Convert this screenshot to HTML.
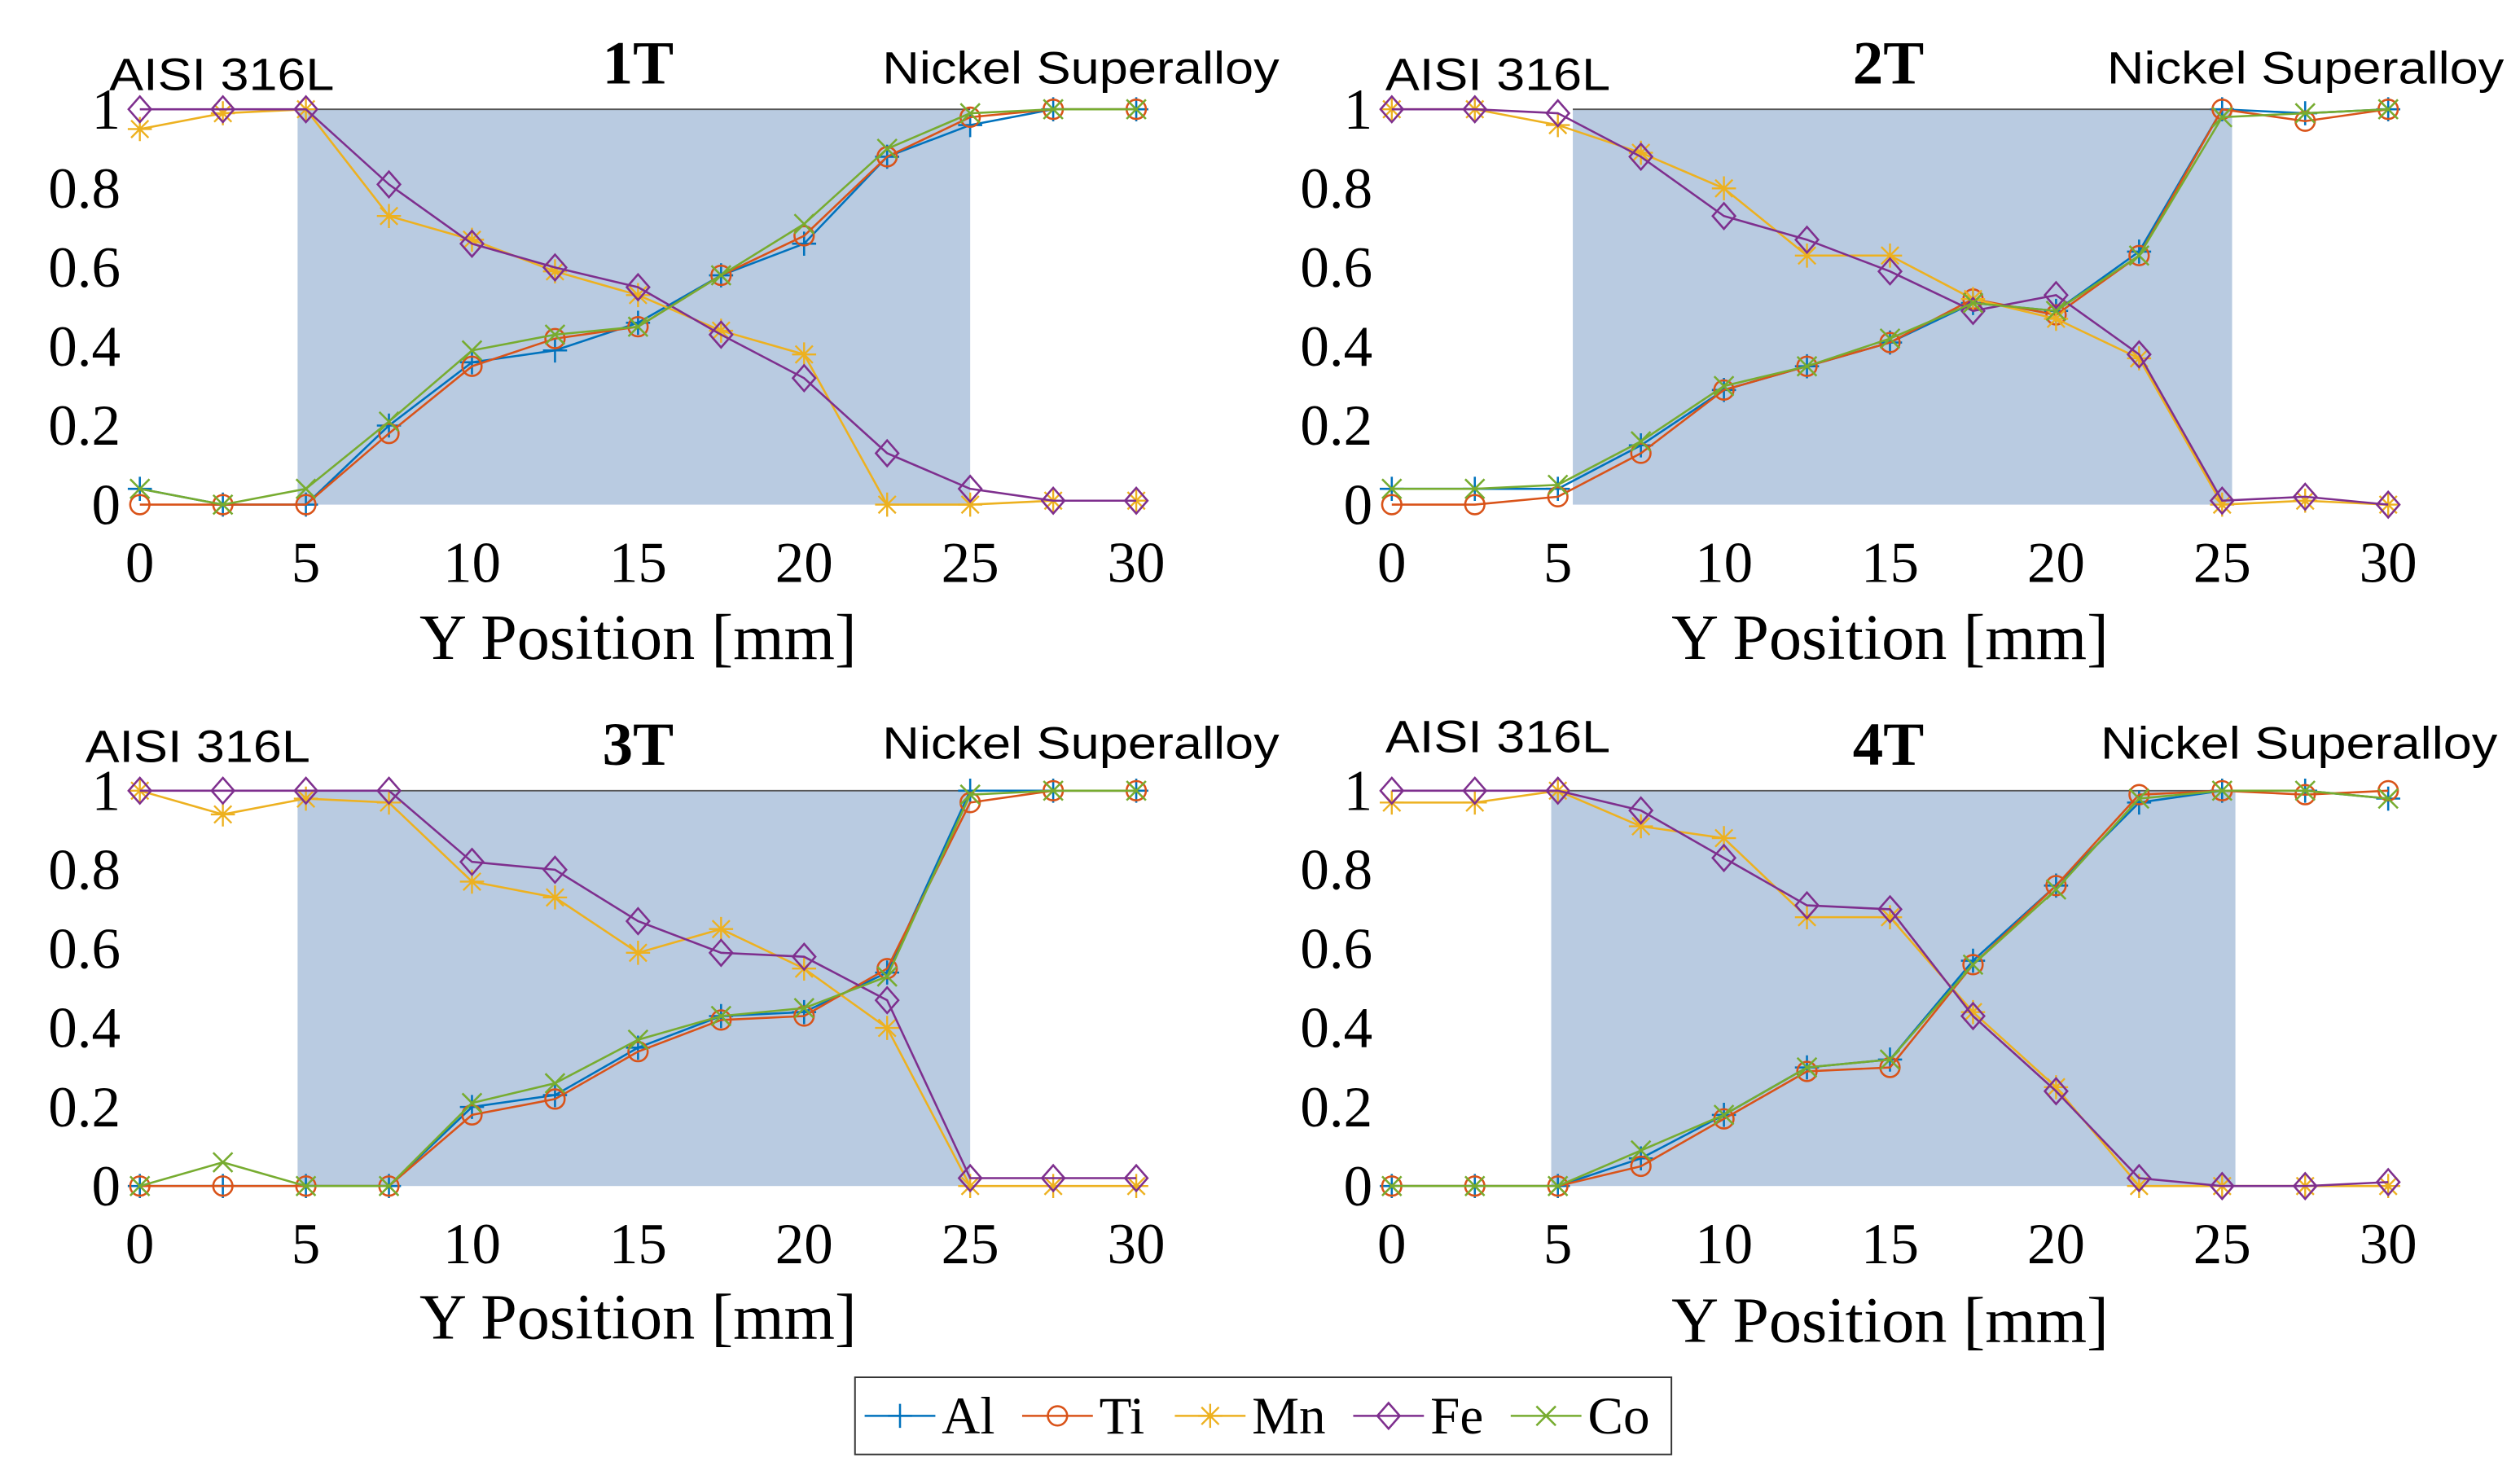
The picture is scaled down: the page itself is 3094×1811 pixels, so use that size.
<!DOCTYPE html>
<html><head><meta charset="utf-8"><style>
html,body{margin:0;padding:0;background:#fff;}
svg{display:block;}
</style></head><body>
<svg id="chart" xmlns="http://www.w3.org/2000/svg" width="3094" height="1811" viewBox="0 0 1568 917.8"></svg>
<script>
const xPositions = [0,2.5,5,7.5,10,12.5,15,17.5,20,22.5,25,27.5,30];
const seriesNames = ["Al","Ti","Mn","Fe","Co"];
const seriesColors = ["#0072BD","#D95319","#EDB120","#7E2F8E","#77AC30"];
const xTicks = [0,5,10,15,20,25,30];
const yTicks = [0,0.2,0.4,0.6,0.8,1];
const yTickLabels = ["0","0.2","0.4","0.6","0.8","1"];
const panelTitles = ["1T","2T","3T","4T"];
const shadeRanges = [[4.75,25],[5.45,25.3],[4.75,25],[4.8,25.4]];
const p1Al=[0.04,0,0,0.2,0.36,0.39,0.46,0.58,0.66,0.88,0.96,1,1];
const p1Ti=[0,0,0,0.18,0.35,0.42,0.45,0.58,0.68,0.88,0.98,1,1];
const p1Mn=[0.95,0.99,1,0.73,0.67,0.59,0.53,0.44,0.38,0,0,0.01,0.01];
const p1Fe=[1,1,1,0.81,0.66,0.6,0.55,0.43,0.32,0.13,0.04,0.01,0.01];
const p1Co=[0.04,0,0.04,0.21,0.39,0.43,0.45,0.58,0.71,0.9,0.99,1,1];
const p2Al=[0.04,0.04,0.04,0.15,0.29,0.35,0.41,0.51,0.49,0.64,1,0.99,1];
const p2Ti=[0,0,0.02,0.13,0.29,0.35,0.41,0.52,0.48,0.63,1,0.97,1];
const p2Mn=[1,1,0.96,0.89,0.8,0.63,0.63,0.52,0.47,0.37,0,0.01,0];
const p2Fe=[1,1,0.99,0.88,0.73,0.67,0.59,0.49,0.53,0.38,0.01,0.02,0];
const p2Co=[0.04,0.04,0.05,0.16,0.3,0.35,0.42,0.51,0.49,0.63,0.98,0.99,1];
const p3Al=[0,0,0,0,0.2,0.23,0.35,0.43,0.44,0.54,1,1,1];
const p3Ti=[0,0,0,0,0.18,0.22,0.34,0.42,0.43,0.55,0.97,1,1];
const p3Mn=[1,0.94,0.98,0.97,0.77,0.73,0.59,0.65,0.55,0.4,0,0,0];
const p3Fe=[1,1,1,1,0.82,0.8,0.67,0.59,0.58,0.47,0.02,0.02,0.02];
const p3Co=[0,0.06,0,0,0.21,0.26,0.37,0.43,0.45,0.53,0.99,1,1];
const p4Al=[0,0,0,0.07,0.18,0.3,0.32,0.57,0.76,0.97,1,1,0.98];
const p4Ti=[0,0,0,0.05,0.17,0.29,0.3,0.56,0.76,0.99,1,0.99,1];
const p4Mn=[0.97,0.97,1,0.91,0.88,0.68,0.68,0.44,0.25,0,0,0,0];
const p4Fe=[1,1,1,0.95,0.83,0.71,0.7,0.43,0.24,0.02,0,0,0.01];
const p4Co=[0,0,0,0.09,0.18,0.3,0.32,0.56,0.75,0.98,1,1,0.98];
const panelData=[[p1Al,p1Ti,p1Mn,p1Fe,p1Co],[p2Al,p2Ti,p2Mn,p2Fe,p2Co],[p3Al,p3Ti,p3Mn,p3Fe,p3Co],[p4Al,p4Ti,p4Mn,p4Fe,p4Co]];

const NS="http://www.w3.org/2000/svg";
const svg=document.getElementById('chart');
function mk(tag,attrs,parent){const e=document.createElementNS(NS,tag);for(const k in attrs)e.setAttribute(k,attrs[k]);(parent||svg).appendChild(e);return e;}
function marker(g,type,cx,cy,color){
  const s=7.5;let e;
  if(type===0){e=mk('path',{d:`M${cx-s} ${cy}H${cx+s}M${cx} ${cy-s}V${cy+s}`,stroke:color,'stroke-width':1.3,fill:'none'},g);}
  else if(type===1){e=mk('circle',{cx:cx,cy:cy,r:6,stroke:color,'stroke-width':1.3,fill:'none'},g);}
  else if(type===2){const d=s*0.72;e=mk('path',{d:`M${cx-s} ${cy}H${cx+s}M${cx} ${cy-s}V${cy+s}M${cx-d} ${cy-d}L${cx+d} ${cy+d}M${cx-d} ${cy+d}L${cx+d} ${cy-d}`,stroke:color,'stroke-width':1.2,fill:'none'},g);}
  else if(type===3){e=mk('path',{d:`M${cx} ${cy-8}L${cx+7} ${cy}L${cx} ${cy+8}L${cx-7} ${cy}Z`,stroke:color,'stroke-width':1.3,fill:'none'},g);}
  else {const d=6;e=mk('path',{d:`M${cx-d} ${cy-d}L${cx+d} ${cy+d}M${cx-d} ${cy+d}L${cx+d} ${cy-d}`,stroke:color,'stroke-width':1.3,fill:'none'},g);}
  
  
}
const panels=[{x0:87,x1:707,yTop:68,yBot:314,ttl:[397,52],aisi:[68,56],nick:[549,52],xl:410},
{x0:866,x1:1486,yTop:68,yBot:314,ttl:[1175,52],aisi:[862,56],nick:[1311,52],xl:410},
{x0:87,x1:707,yTop:492,yBot:738,ttl:[397,476],aisi:[53,474],nick:[549,472],xl:833},
{x0:866,x1:1486,yTop:492,yBot:738,ttl:[1175,476],aisi:[862,468],nick:[1307,472],xl:835}];
panels.forEach((P,pi)=>{
  const g=mk('g',{});
  
  
  const sx=v=>P.x0+(v/30)*(P.x1-P.x0);
  const sy=v=>P.yBot-v*(P.yBot-P.yTop);
  const sr=shadeRanges[pi];
  const r=mk('rect',{x:sx(sr[0]),y:P.yTop,width:sx(sr[1])-sx(sr[0]),height:P.yBot-P.yTop,fill:'#b9cbe1'},g);
  
  
  const tl=mk('line',{x1:sx(sr[0]),x2:sx(sr[1]),y1:P.yTop,y2:P.yTop,stroke:'#555','stroke-width':1},g);
  
  
  yTicks.forEach((t,i)=>{const e=mk('text',{x:P.x0-12,y:sy(t)+12,'text-anchor':'end','font-family':'Liberation Serif, serif','font-size':36},g);e.textContent=yTickLabels[i];
    });
  xTicks.forEach(t=>{const e=mk('text',{x:sx(t),y:P.yBot+48,'text-anchor':'middle','font-family':'Liberation Serif, serif','font-size':36},g);e.textContent=String(t);
    });
  const xl=mk('text',{x:(P.x0+P.x1)/2-136,y:P.xl,'font-family':'Liberation Serif, serif','font-size':40,textLength:272,lengthAdjust:'spacingAndGlyphs'},g);xl.textContent='Y Position [mm]';
  
  const tt=mk('text',{x:P.ttl[0],y:P.ttl[1],'text-anchor':'middle','font-family':'Liberation Serif, serif','font-size':38,'font-weight':'bold'},g);tt.textContent=panelTitles[pi];
  
  const a=mk('text',{x:P.aisi[0],y:P.aisi[1],'font-family':'Liberation Sans, sans-serif','font-size':28,textLength:140,lengthAdjust:'spacingAndGlyphs'},g);a.textContent='AISI 316L';
  
  const n=mk('text',{x:P.nick[0],y:P.nick[1],'font-family':'Liberation Sans, sans-serif','font-size':28,textLength:247,lengthAdjust:'spacingAndGlyphs'},g);n.textContent='Nickel Superalloy';
  
  panelData[pi].forEach((vals,si)=>{
    const pts=vals.map((v,i)=>sx(xPositions[i])+','+sy(v)).join(' ');
    const l=mk('polyline',{points:pts,fill:'none',stroke:seriesColors[si],'stroke-width':1.3},g);
    
    
    vals.forEach((v,i)=>marker(g,si,sx(xPositions[i]),sy(v),seriesColors[si]));
  });
});
const lg=mk('g',{});


const lb=mk('rect',{x:532,y:857,width:508,height:48,fill:'#fff',stroke:'#333','stroke-width':1},lg);


const lx=[538,636,731,842,940];
seriesNames.forEach((nm,i)=>{
  const x=lx[i],y=881;
  const l=mk('line',{x1:x,x2:x+44,y1:y,y2:y,stroke:seriesColors[i],'stroke-width':1.3},lg);
  
  
  marker(lg,i,x+22,y,seriesColors[i]);
  const t=mk('text',{x:x+48,y:y+11,'font-family':'Liberation Serif, serif','font-size':33},lg);t.textContent=nm;
  
  
});
</script>
</body></html>
